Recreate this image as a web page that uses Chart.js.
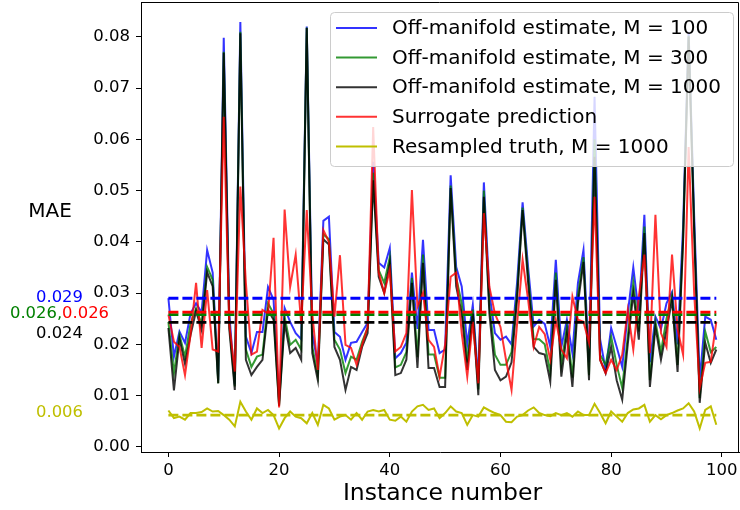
<!DOCTYPE html>
<html>
<head>
<meta charset="utf-8">
<script src="https://cdn.jsdelivr.net/npm/chart.js@4.4.1/dist/chart.umd.min.js"></script>
<style>
  html, body { margin: 0; padding: 0; background: #fff; }
  #wrap { width: 740px; height: 510px; }
</style>
</head>
<body>
<div id="wrap"><canvas id="plot1" width="740" height="510"></canvas></div>
<script>
// MAE per instance
var off100 = [
  0.0290, 0.0176, 0.0225, 0.0203, 0.0260, 0.0280, 0.0262, 0.0384, 0.0340, 0.0130,
  0.0798, 0.0260, 0.0122, 0.0829, 0.0215, 0.0183, 0.0224, 0.0224, 0.0312, 0.0287,
  0.0090, 0.0271, 0.0244, 0.0222, 0.0210, 0.0820, 0.0222, 0.0160, 0.0441, 0.0449,
  0.0224, 0.0215, 0.0170, 0.0203, 0.0205, 0.0224, 0.0242, 0.0556, 0.0359, 0.0350,
  0.0388, 0.0173, 0.0183, 0.0203, 0.0340, 0.0230, 0.0404, 0.0228, 0.0228, 0.0183,
  0.0190, 0.0530, 0.0351, 0.0313, 0.0200, 0.0277, 0.0130, 0.0516, 0.0300, 0.0222,
  0.0209, 0.0215, 0.0200, 0.0320, 0.0477, 0.0350, 0.0235, 0.0248, 0.0240, 0.0195,
  0.0365, 0.0195, 0.0248, 0.0183, 0.0320, 0.0384, 0.0165, 0.0683, 0.0210, 0.0150,
  0.0232, 0.0195, 0.0156, 0.0260, 0.0350, 0.0260, 0.0453, 0.0165, 0.0254, 0.0230,
  0.0280, 0.0302, 0.0200, 0.0430, 0.0810, 0.0450, 0.0130, 0.0254, 0.0248, 0.0209
];
var off300 = [
  0.0244, 0.0144, 0.0219, 0.0176, 0.0240, 0.0270, 0.0240, 0.0351, 0.0326, 0.0124,
  0.0771, 0.0240, 0.0118, 0.0810, 0.0190, 0.0156, 0.0176, 0.0180, 0.0280, 0.0260,
  0.0082, 0.0254, 0.0199, 0.0209, 0.0190, 0.0818, 0.0195, 0.0140, 0.0415, 0.0405,
  0.0209, 0.0190, 0.0144, 0.0176, 0.0170, 0.0205, 0.0232, 0.0535, 0.0345, 0.0320,
  0.0370, 0.0155, 0.0160, 0.0185, 0.0330, 0.0175, 0.0375, 0.0180, 0.0180, 0.0135,
  0.0135, 0.0510, 0.0330, 0.0280, 0.0165, 0.0268, 0.0112, 0.0500, 0.0275, 0.0180,
  0.0160, 0.0160, 0.0185, 0.0300, 0.0467, 0.0335, 0.0210, 0.0210, 0.0200, 0.0145,
  0.0340, 0.0160, 0.0235, 0.0135, 0.0295, 0.0370, 0.0140, 0.0600, 0.0180, 0.0160,
  0.0215, 0.0160, 0.0115, 0.0215, 0.0320, 0.0225, 0.0430, 0.0130, 0.0245, 0.0185,
  0.0250, 0.0295, 0.0160, 0.0410, 0.0802, 0.0430, 0.0095, 0.0225, 0.0185, 0.0195
];
var off1000 = [
  0.0232, 0.0110, 0.0211, 0.0162, 0.0218, 0.0265, 0.0228, 0.0341, 0.0313, 0.0124,
  0.0769, 0.0230, 0.0111, 0.0807, 0.0170, 0.0140, 0.0156, 0.0170, 0.0267, 0.0248,
  0.0080, 0.0242, 0.0183, 0.0193, 0.0170, 0.0817, 0.0183, 0.0130, 0.0405, 0.0395,
  0.0195, 0.0170, 0.0111, 0.0156, 0.0150, 0.0195, 0.0222, 0.0520, 0.0332, 0.0300,
  0.0359, 0.0140, 0.0144, 0.0170, 0.0320, 0.0154, 0.0359, 0.0154, 0.0154, 0.0117,
  0.0117, 0.0505, 0.0313, 0.0260, 0.0150, 0.0260, 0.0101, 0.0488, 0.0260, 0.0150,
  0.0130, 0.0137, 0.0165, 0.0287, 0.0462, 0.0320, 0.0195, 0.0183, 0.0180, 0.0127,
  0.0326, 0.0137, 0.0222, 0.0117, 0.0280, 0.0361, 0.0130, 0.0566, 0.0170, 0.0144,
  0.0195, 0.0130, 0.0092, 0.0200, 0.0300, 0.0209, 0.0417, 0.0117, 0.0234, 0.0170,
  0.0228, 0.0287, 0.0146, 0.0400, 0.0800, 0.0420, 0.0086, 0.0203, 0.0164, 0.0190
];
var surrogate = [
  0.0258, 0.0205, 0.0195, 0.0140, 0.0219, 0.0320, 0.0193, 0.0306, 0.0190, 0.0186,
  0.0644, 0.0240, 0.0147, 0.0508, 0.0320, 0.0180, 0.0186, 0.0267, 0.0260, 0.0408,
  0.0077, 0.0463, 0.0312, 0.0375, 0.0240, 0.0462, 0.0260, 0.0150, 0.0423, 0.0400,
  0.0254, 0.0374, 0.0199, 0.0193, 0.0160, 0.0199, 0.0234, 0.0624, 0.0340, 0.0300,
  0.0345, 0.0186, 0.0195, 0.0222, 0.0501, 0.0273, 0.0300, 0.0209, 0.0195, 0.0137,
  0.0200, 0.0332, 0.0340, 0.0222, 0.0137, 0.0244, 0.0124, 0.0456, 0.0312, 0.0260,
  0.0234, 0.0170, 0.0111, 0.0240, 0.0365, 0.0287, 0.0195, 0.0234, 0.0220, 0.0170,
  0.0248, 0.0190, 0.0173, 0.0293, 0.0248, 0.0244, 0.0203, 0.0488, 0.0170, 0.0144,
  0.0170, 0.0150, 0.0180, 0.0267, 0.0190, 0.0293, 0.0375, 0.0183, 0.0453, 0.0222,
  0.0195, 0.0375, 0.0230, 0.0180, 0.0585, 0.0300, 0.0115, 0.0164, 0.0166, 0.0244
];
var resampled = [
  0.0071, 0.0056, 0.0059, 0.0053, 0.0066, 0.0066, 0.0068, 0.0075, 0.0069, 0.0070,
  0.0062, 0.0053, 0.0040, 0.0088, 0.0069, 0.0053, 0.0075, 0.0066, 0.0072, 0.0062,
  0.0036, 0.0056, 0.0069, 0.0059, 0.0056, 0.0046, 0.0066, 0.0043, 0.0082, 0.0075,
  0.0053, 0.0059, 0.0062, 0.0053, 0.0066, 0.0053, 0.0069, 0.0072, 0.0069, 0.0072,
  0.0053, 0.0051, 0.0059, 0.0049, 0.0069, 0.0079, 0.0082, 0.0072, 0.0075, 0.0056,
  0.0066, 0.0079, 0.0069, 0.0066, 0.0043, 0.0062, 0.0059, 0.0077, 0.0071, 0.0066,
  0.0062, 0.0049, 0.0048, 0.0059, 0.0062, 0.0071, 0.0077, 0.0066, 0.0062, 0.0060,
  0.0066, 0.0062, 0.0066, 0.0059, 0.0069, 0.0062, 0.0062, 0.0084, 0.0066, 0.0046,
  0.0069, 0.0059, 0.0049, 0.0066, 0.0073, 0.0075, 0.0082, 0.0049, 0.0062, 0.0054,
  0.0062, 0.0066, 0.0071, 0.0075, 0.0085, 0.0069, 0.0036, 0.0072, 0.0079, 0.0043
];

// mean levels (dashed lines) and their labels, order: M=100, M=300, M=1000, surrogate, resampled
var meanLevels = [0.0290, 0.0258, 0.0243, 0.0263, 0.0062];
var meanLabels = ['0.029', '0.026', '0.024', '0.026', '0.006'];

var seriesNames = [
  'Off-manifold estimate, M = 100',
  'Off-manifold estimate, M = 300',
  'Off-manifold estimate, M = 1000',
  'Surrogate prediction',
  'Resampled truth, M = 1000'
];
var xTicks = [0, 20, 40, 60, 80, 100];
var yTicks = [0, 0.01, 0.02, 0.03, 0.04, 0.05, 0.06, 0.07, 0.08];

var lineColors = ['rgba(0,0,255,0.8)', 'rgba(0,128,0,0.8)', 'rgba(0,0,0,0.8)', 'rgba(255,0,0,0.8)', '#bfbf00'];
var dashColors = ['#0000ff', '#008000', '#000000', '#ff0000', '#bfbf00'];

var FONT = '"DejaVu Sans", "Liberation Sans", sans-serif';
Chart.defaults.color = '#000';
Chart.defaults.font.family = FONT;

function pts(arr) {
  return arr.map(function (v, i) { return { x: i, y: v }; });
}
function flat(level) {
  var n = off100.length - 1;
  return [{ x: 0, y: level }, { x: n, y: level }];
}

var series = [off100, off300, off1000, surrogate, resampled];
var datasets = [];
series.forEach(function (s, k) {
  datasets.push({
    label: seriesNames[k],
    data: pts(s),
    borderColor: lineColors[k],
    borderWidth: 2,
    pointRadius: 0,
    tension: 0,
    fill: false,
    order: 10 - k
  });
});
// dashed mean lines go on top; red drawn over green
var dashOrder = [4, 3, 1, 2, 0];
meanLevels.forEach(function (m, k) {
  datasets.push({
    label: 'mean ' + k,
    data: flat(m),
    borderColor: dashColors[k],
    borderWidth: 2.8,
    borderDash: [10, 4],
    pointRadius: 0,
    fill: false,
    order: dashOrder[k]
  });
});

var extras = {
  id: 'extras',
  afterDraw: function (chart) {
    var ctx = chart.ctx, a = chart.chartArea, ys = chart.scales.y;
    ctx.save();
    // top and right spines
    ctx.strokeStyle = '#000';
    ctx.lineWidth = 1;
    ctx.beginPath();
    ctx.moveTo(a.left, a.top + 0.5);
    ctx.lineTo(a.right - 0.5, a.top + 0.5);
    ctx.lineTo(a.right - 0.5, a.bottom);
    ctx.stroke();

    // legend box
    var lx = 330, ly = 12, lw = 403, lh = 154;
    ctx.beginPath();
    ctx.roundRect(lx + 0.5, ly + 0.5, lw, lh, 4);
    ctx.fillStyle = 'rgba(255,255,255,0.8)';
    ctx.fill();
    ctx.strokeStyle = '#cccccc';
    ctx.lineWidth = 1;
    ctx.stroke();
    ctx.font = '20px ' + FONT;
    ctx.textAlign = 'left';
    ctx.textBaseline = 'middle';
    seriesNames.forEach(function (name, k) {
      var yy = 28 + k * 29.6;
      ctx.strokeStyle = lineColors[k];
      ctx.lineWidth = 2;
      ctx.beginPath();
      ctx.moveTo(336, yy);
      ctx.lineTo(377, yy);
      ctx.stroke();
      ctx.fillStyle = '#000';
      ctx.fillText(name, 392, yy + 1);
    });

    // axis titles
    ctx.textAlign = 'center';
    ctx.fillStyle = '#000';
    ctx.font = '20px ' + FONT;
    ctx.fillText('MAE', 50, 212);
    ctx.font = '23.5px ' + FONT;
    ctx.fillText('Instance number', 442.5, 494);

    // mean value labels left of the axis
    ctx.font = '16.4px ' + FONT;
    var cx = 59.5;
    ctx.fillStyle = dashColors[0];
    ctx.fillText(meanLabels[0], cx, ys.getPixelForValue(meanLevels[0]));
    var g = meanLabels[1] + ',', r = meanLabels[3];
    var gw = ctx.measureText(g).width, rw = ctx.measureText(r).width;
    var x0 = cx - (gw + rw) / 2, yMid = ys.getPixelForValue(0.026);
    ctx.textAlign = 'left';
    ctx.fillStyle = dashColors[1];
    ctx.fillText(g, x0, yMid);
    ctx.fillStyle = dashColors[3];
    ctx.fillText(r, x0 + gw, yMid);
    ctx.textAlign = 'center';
    ctx.fillStyle = dashColors[2];
    ctx.fillText(meanLabels[2], cx, ys.getPixelForValue(meanLevels[2]) + 11);
    ctx.fillStyle = dashColors[4];
    ctx.fillText(meanLabels[4], cx, ys.getPixelForValue(meanLevels[4]) - 2);
    ctx.restore();
  }
};

var chart = new Chart(document.getElementById('plot1'), {
  type: 'line',
  data: { datasets: datasets },
  plugins: [extras],
  options: {
    responsive: false,
    animation: false,
    devicePixelRatio: 1,
    layout: { padding: { top: 2, right: 1, left: 0, bottom: 0 } },
    plugins: { legend: { display: false }, tooltip: { enabled: false } },
    scales: {
      x: {
        type: 'linear',
        min: -4.95,
        max: 103.1,
        afterBuildTicks: function (s) { s.ticks = xTicks.map(function (v) { return { value: v }; }); },
        afterFit: function (s) { s.height = 58; s.paddingLeft = 0; s.paddingRight = 0; },
        ticks: { font: { size: 16.5 }, padding: 4, maxRotation: 0 },
        grid: { drawOnChartArea: false, tickLength: 5, color: '#000', tickColor: '#000' },
        border: { color: '#000', width: 1 }
      },
      y: {
        type: 'linear',
        min: -0.001,
        max: 0.0868,
        afterBuildTicks: function (s) { s.ticks = yTicks.map(function (v) { return { value: v }; }); },
        afterFit: function (s) { s.width = 141; s.paddingTop = 0; s.paddingBottom = 0; },
        ticks: {
          font: { size: 16.5 },
          padding: 6,
          callback: function (v) { return v.toFixed(2); }
        },
        grid: { drawOnChartArea: false, tickLength: 5, color: '#000', tickColor: '#000' },
        border: { color: '#000', width: 1 }
      }
    }
  }
});
</script>
</body>
</html>
